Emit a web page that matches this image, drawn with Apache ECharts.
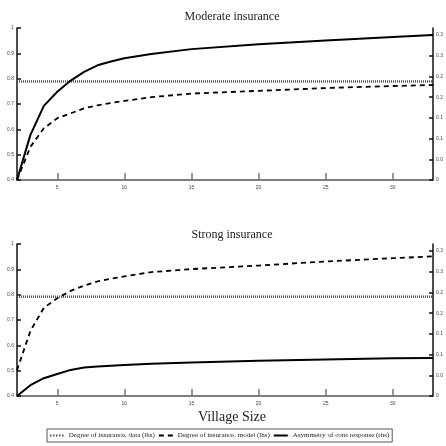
<!DOCTYPE html>
<html>
<head>
<meta charset="utf-8">
<script src="https://cdn.jsdelivr.net/npm/echarts@6/dist/echarts.min.js"></script>
<style>
  html, body { margin: 0; padding: 0; background: #fff; }
  #chart { width: 446px; height: 446px; }
</style>
</head>
<body>
<div id="chart"></div>
<script>
// village sizes on the x axis
const villageSize = [2, 3, 4, 5, 6, 7, 8, 9, 10, 12, 15, 20, 25, 30, 33];
const dataSpan = [2, 33];

// Moderate insurance panel
const modDataIns = [0.789, 0.789];
const modModelIns = [0.4, 0.531, 0.604, 0.644, 0.663, 0.683, 0.695, 0.704, 0.712, 0.727, 0.741, 0.752, 0.763, 0.771, 0.775];
const modAsym = [0, 0.109, 0.179, 0.213, 0.240, 0.261, 0.277, 0.286, 0.294, 0.304, 0.316, 0.328, 0.337, 0.345, 0.350];

// Strong insurance panel
const strDataIns = [0.792, 0.792];
const strModelIns = [0.502, 0.657, 0.748, 0.786, 0.815, 0.836, 0.852, 0.863, 0.872, 0.889, 0.901, 0.915, 0.931, 0.944, 0.951];
const strAsym = [0, 0.026, 0.043, 0.053, 0.063, 0.069, 0.071, 0.073, 0.075, 0.078, 0.081, 0.085, 0.088, 0.091, 0.092];

const xTicks = [5, 10, 15, 20, 25, 30];
const rhsTicks = [0, 0.05, 0.1, 0.15, 0.2, 0.25, 0.3, 0.35];

const names = ['Degree of insurance, data (lhs)', 'Degree of insurance, model (lhs)', 'Asymmetry of cons response (rhs)'];
// little line samples for the legend
const icons = [
  'path://M0,0h1.5v2h-1.5zM3,0h1.5v2h-1.5zM6,0h1.5v2h-1.5zM9,0h1.5v2h-1.5zM12,0h1.5v2h-1.5z',
  'path://M0,0h5v2h-5zM9,0h5v2h-5z',
  'path://M0,0h14v2h-14z'
];

const zip = (xs, ys) => xs.map((x, i) => [x, ys[i]]);
const serif = 'Liberation Serif';

function xAxis(gridIndex) {
  return {
    type: 'value', gridIndex: gridIndex, min: 2, max: 33,
    axisLine: { lineStyle: { color: '#555', width: 1.5 } },
    axisTick: { inside: true, length: 7, customValues: xTicks, lineStyle: { color: '#777', width: 1.5 } },
    axisLabel: { customValues: xTicks, fontSize: 5, color: '#444', margin: 5 },
    splitLine: { show: false }
  };
}
function lhs(gridIndex) {
  return {
    type: 'value', gridIndex: gridIndex, position: 'left', min: 0.4, max: 1, interval: 0.1,
    axisLine: { show: true, lineStyle: { color: '#111', width: 1.5 } },
    axisTick: { show: true, inside: true, length: 4, lineStyle: { color: '#111', width: 1.5 } },
    axisLabel: { fontSize: 5, color: '#444', margin: 3, formatter: v => String(+v.toFixed(2)) },
    splitLine: { show: false }
  };
}
function rhs(gridIndex) {
  return {
    type: 'value', gridIndex: gridIndex, position: 'right', min: 0, max: 0.367,
    axisLine: { show: true, lineStyle: { color: '#111', width: 1.5 } },
    axisTick: { show: true, inside: true, length: 4, customValues: rhsTicks, lineStyle: { color: '#111', width: 1.5 } },
    axisLabel: { fontSize: 5, color: '#444', margin: 3, customValues: rhsTicks,
      formatter: v => v === 0 ? '0' : String(v).slice(0, 3) },
    splitLine: { show: false }
  };
}
function panel(idx, dataIns, modelIns, asym) {
  return [
    { name: names[0], type: 'line', xAxisIndex: idx, yAxisIndex: idx * 2, data: zip(dataSpan, dataIns),
      symbol: 'none', lineStyle: { color: '#555', width: 2.5, type: [1, 1] }, itemStyle: { color: '#555' } },
    { name: names[1], type: 'line', xAxisIndex: idx, yAxisIndex: idx * 2, data: zip(villageSize, modelIns),
      symbol: 'none', lineStyle: { color: '#000', width: 1.8, type: [5, 4] }, itemStyle: { color: '#000' } },
    { name: names[2], type: 'line', xAxisIndex: idx, yAxisIndex: idx * 2 + 1, data: zip(villageSize, asym),
      symbol: 'none', lineStyle: { color: '#000', width: 2 }, itemStyle: { color: '#000' } }
  ];
}

const chart = echarts.init(document.getElementById('chart'));
chart.setOption({
  animation: false,
  backgroundColor: '#fff',
  title: [
    { text: 'Moderate insurance', left: 227, top: 6, textAlign: 'center',
      textStyle: { fontFamily: serif, fontSize: 12, fontWeight: 'normal', color: '#222' } },
    { text: 'Strong insurance', left: 227, top: 224, textAlign: 'center',
      textStyle: { fontFamily: serif, fontSize: 12, fontWeight: 'normal', color: '#222' } },
    { text: 'Village Size', left: 227, top: 405, textAlign: 'center',
      textStyle: { fontFamily: serif, fontSize: 14, fontWeight: 'normal', color: '#222' } }
  ],
  legend: {
    data: names.map((n, i) => ({ name: n, icon: icons[i] })),
    left: 47, top: 429, orient: 'horizontal',
    itemWidth: 14, itemHeight: 2, itemGap: 4, padding: [3, 3],
    borderColor: '#555', borderWidth: 1,
    textStyle: { fontFamily: serif, fontSize: 7, color: '#222' }
  },
  grid: [
    { left: 17, right: 8, top: 28, height: 152 },
    { left: 17, right: 8, top: 244, height: 152 }
  ],
  xAxis: [xAxis(0), xAxis(1)],
  yAxis: [lhs(0), rhs(0), lhs(1), rhs(1)],
  series: [].concat(panel(0, modDataIns, modModelIns, modAsym), panel(1, strDataIns, strModelIns, strAsym))
});
</script>
</body>
</html>
